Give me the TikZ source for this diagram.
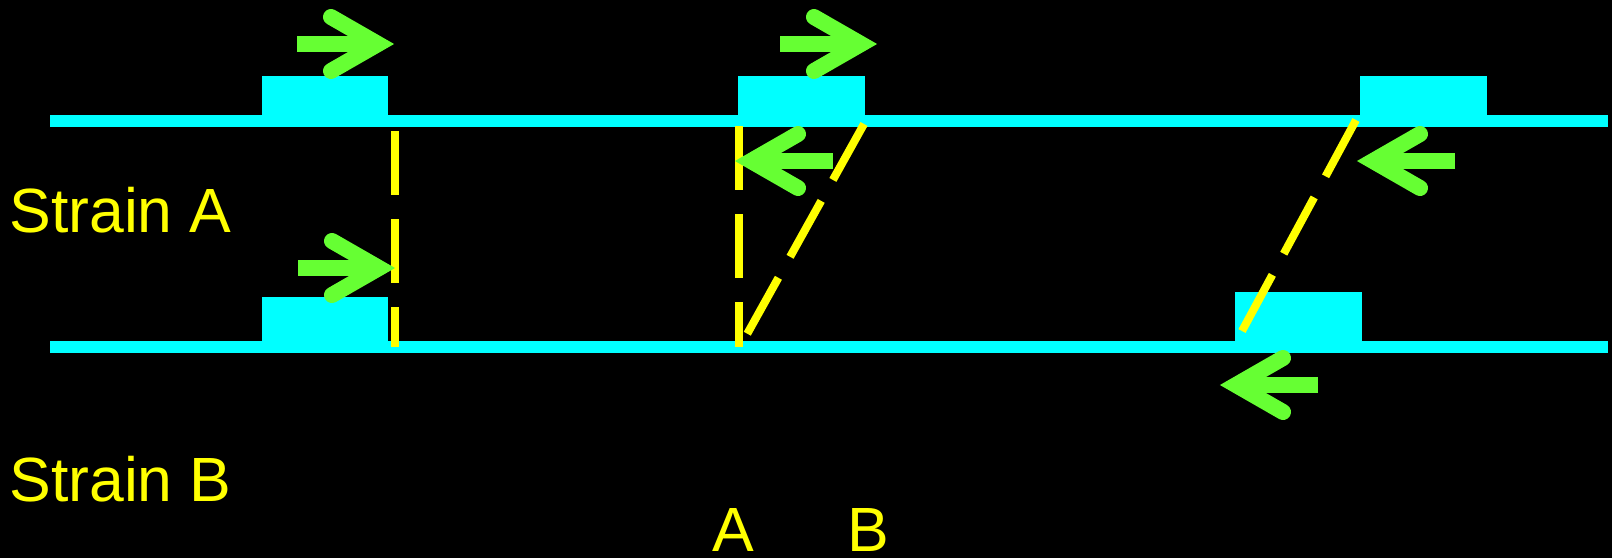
\documentclass[tikz,border=0pt]{standalone}
\usepackage{fontspec}
\setmainfont{Liberation Sans}
\definecolor{cyanc}{HTML}{00FFFF}
\definecolor{greenc}{HTML}{66FF33}
\definecolor{yellowc}{HTML}{FFFF00}
\tikzset{
  strand/.style={draw=cyanc, line width=6pt, line cap=butt},
  geneblock/.style={fill=cyanc, draw=none},
  pairline/.style={draw=yellowc, line width=4pt, line cap=butt, dash pattern=on 32pt off 12pt},
  gshaft/.style={draw=greenc, line width=8pt, line cap=butt},
  ghead/.style={draw=greenc, line width=8pt, line cap=round, line join=miter},
  lbl/.style={text=yellowc, inner sep=0pt, text depth=0pt, anchor=south west, font=\fontsize{31.25pt}{36pt}\selectfont}
}
\newcommand\rarr[2]{%
  \draw[gshaft] (#1-97,#2) -- (#1-14,#2);
  \draw[ghead] (#1-63,#2-27) -- (#1-16,#2) -- (#1-63,#2+27);}
\newcommand\larr[2]{%
  \draw[gshaft] (#1+98,#2) -- (#1+14,#2);
  \draw[ghead] (#1+63,#2-27) -- (#1+16,#2) -- (#1+63,#2+27);}
\begin{document}
\begin{tikzpicture}[x=0.5pt,y=-0.5pt]
\useasboundingbox[fill=black] (0,0) rectangle (1612,558);
% strands
\coordinate (tL) at (50,121); \coordinate (tR) at (1608,121);
\coordinate (bL) at (50,347); \coordinate (bR) at (1608,347);
\draw[strand] (tL) -- (tR);
\draw[strand] (bL) -- (bR);
% blocks
\fill[geneblock] (262,76) rectangle (388,127);
\fill[geneblock] (738,76) rectangle (865,127);
\fill[geneblock] (1360,76) rectangle (1487,127);
\fill[geneblock] (262,297) rectangle (388,353);
\fill[geneblock] (1235,292) rectangle (1362,353);
% dashed pairings
\coordinate (p1a) at (395,131); \coordinate (p1b) at (395,347);
\coordinate (p2a) at (739,126); \coordinate (p2b) at (739,347);
\coordinate (p3a) at (864,124); \coordinate (p3b) at (746,336);
\coordinate (p4a) at (1356,120); \coordinate (p4b) at (1242,331);
\draw[pairline] (p1a) -- (p1b);
\draw[pairline] (p2a) -- (p2b);
\draw[pairline] (p3a) -- (p3b);
\draw[pairline] (p4a) -- (p4b);
% arrows
\rarr{394}{44}
\rarr{877}{44}
\rarr{395}{268}
\larr{735}{161}
\larr{1357}{161}
\larr{1220}{385}
% labels
\node[lbl] (sa) at (9,233) {Strain A};
\node[lbl] (sb) at (9,502) {Strain B};
\node[lbl] (la) at (712,552) {A};
\node[lbl] (lb) at (847,552) {B};
\end{tikzpicture}
\end{document}
